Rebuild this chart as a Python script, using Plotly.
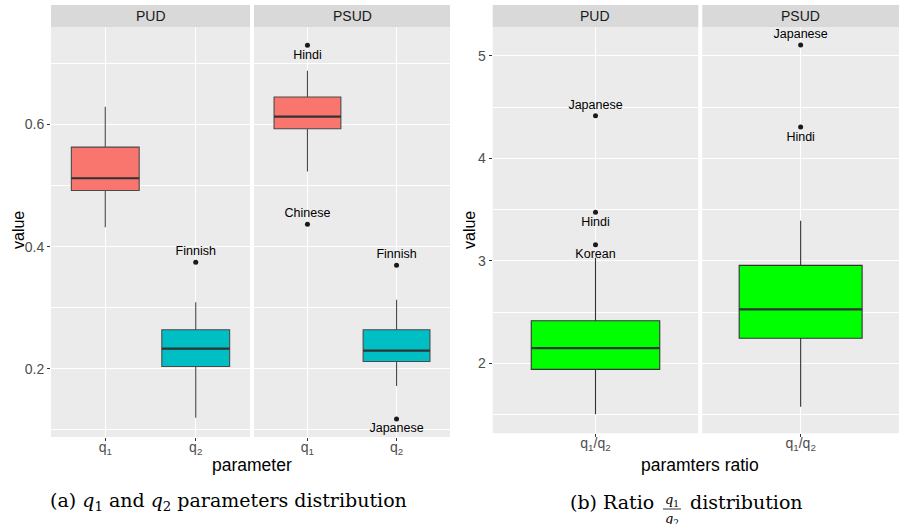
import plotly.graph_objects as go

W, H = 900, 524

# ---------------- data ----------------
datasets = ["PUD", "PSUD"]
param_categories = ["q1", "q2"]
param_ticktext = ["q<sub>1</sub>", "q<sub>2</sub>"]

# box statistics (lower whisker, Q1, median, Q3, upper whisker) per dataset, per parameter
pud_lower = [0.432, 0.120]
pud_q1 = [0.492, 0.204]
pud_median = [0.512, 0.233]
pud_q3 = [0.563, 0.264]
pud_upper = [0.629, 0.309]

psud_lower = [0.523, 0.172]
psud_q1 = [0.593, 0.212]
psud_median = [0.613, 0.230]
psud_q3 = [0.645, 0.264]
psud_upper = [0.688, 0.313]

# outliers
pud_out_param = ["q2"]
pud_out_value = [0.3745]
pud_out_label = ["Finnish"]
pud_out_pos = ["top center"]

psud_out_param = ["q1", "q1", "q2", "q2"]
psud_out_value = [0.7296, 0.4367, 0.3696, 0.118]
psud_out_label = ["Hindi", "Chinese", "Finnish", "Japanese"]
psud_out_pos = ["bottom center", "top center", "top center", "bottom center"]

# ratio q1/q2
ratio_categories = ["q1/q2"]
ratio_ticktext = ["q<sub>1</sub>/q<sub>2</sub>"]
ratio_lower = [1.505, 1.579]
ratio_q1 = [1.943, 2.246]
ratio_median = [2.151, 2.528]
ratio_q3 = [2.417, 2.957]
ratio_upper = [3.03, 3.392]

ratio_pud_out_value = [4.415, 3.474, 3.158]
ratio_pud_out_label = ["Japanese", "Hindi", "Korean"]
ratio_pud_out_pos = ["top center", "bottom center", "bottom center"]
ratio_psud_out_value = [5.104, 4.305]
ratio_psud_out_label = ["Japanese", "Hindi"]
ratio_psud_out_pos = ["top center", "bottom center"]

left_y_ticks = [0.2, 0.4, 0.6]
right_y_ticks = [2, 3, 4, 5]

# ---------------- styling ----------------
RED = "#F8766D"
CYAN = "#00BFC4"
GREEN = "#00FF00"
BOXLINE = "#333333"
SANS = "Liberation Sans, Arial, sans-serif"
SERIF = "DejaVu Serif, Liberation Serif, serif"
BOXW = 0.75


def px(x):
    return x / W


def py(y):
    return 1 - y / H


fig = go.Figure()


def add_box(xname, yname, pos, lo, q1, med, q3, hi, color, lc):
    fig.add_trace(go.Box(
        x=[pos], lowerfence=[lo], q1=[q1], median=[med], q3=[q3], upperfence=[hi],
        xaxis=xname, yaxis=yname, width=BOXW, whiskerwidth=0,
        fillcolor=color, line=dict(color=lc, width=1.1),
        boxpoints=False, showlegend=False, hoverinfo="skip"))
    # thicker median line (ggplot fatten)
    fig.add_trace(go.Scatter(
        x=[pos - BOXW / 2, pos + BOXW / 2], y=[med, med], mode="lines",
        line=dict(color=BOXLINE, width=2.2), xaxis=xname, yaxis=yname,
        showlegend=False, hoverinfo="skip"))


def add_outliers(xname, yname, xs, ys, labels, positions):
    fig.add_trace(go.Scatter(
        x=xs, y=ys, mode="markers+text", text=labels, textposition=positions,
        marker=dict(color="#1a1a1a", size=5), textfont=dict(family=SANS, size=12.5, color="black"),
        xaxis=xname, yaxis=yname, showlegend=False, hoverinfo="skip"))


fills = [RED, CYAN]
for i, cat in enumerate(param_categories):
    add_box("x", "y", i, pud_lower[i], pud_q1[i], pud_median[i], pud_q3[i], pud_upper[i], fills[i], "#4a4a4a")
    add_box("x2", "y2", i, psud_lower[i], psud_q1[i], psud_median[i], psud_q3[i], psud_upper[i], fills[i], "#4a4a4a")

add_outliers("x", "y", [param_categories.index(p) for p in pud_out_param], pud_out_value, pud_out_label, pud_out_pos)
add_outliers("x2", "y2", [param_categories.index(p) for p in psud_out_param], psud_out_value, psud_out_label, psud_out_pos)

add_box("x3", "y3", 0, ratio_lower[0], ratio_q1[0], ratio_median[0], ratio_q3[0], ratio_upper[0], GREEN, BOXLINE)
add_box("x4", "y4", 0, ratio_lower[1], ratio_q1[1], ratio_median[1], ratio_q3[1], ratio_upper[1], GREEN, BOXLINE)
add_outliers("x3", "y3", [0] * len(ratio_pud_out_value), ratio_pud_out_value, ratio_pud_out_label, ratio_pud_out_pos)
add_outliers("x4", "y4", [0] * len(ratio_psud_out_value), ratio_psud_out_value, ratio_psud_out_label, ratio_psud_out_pos)

# ---------------- axes ----------------
tickfont = dict(family=SANS, size=14, color="#4d4d4d")

xdom = [
    [px(51), px(250)],
    [px(254), px(450)],
    [px(492.7), px(698.3)],
    [px(702.3), px(899)],
]
ydom_left = [py(437), py(27)]
ydom_right = [py(433.3), py(27)]


def xaxis(i, ticktext, rng):
    return dict(domain=xdom[i], range=rng, tickvals=list(range(len(ticktext))), ticktext=ticktext,
                showgrid=True, gridcolor="white", gridwidth=1.1, zeroline=False,
                ticks="outside", ticklen=3, tickcolor=BOXLINE, tickfont=tickfont,
                ticklabelstandoff=-6,
                anchor=["y", "y2", "y3", "y4"][i], fixedrange=True)


def yaxis(dom, rng, tickvals, dtick_minor, show, anchor="x"):
    d = dict(domain=dom, range=rng, tickvals=tickvals, ticktext=[str(v) for v in tickvals],
             showgrid=True, gridcolor="white", gridwidth=1.1, zeroline=False,
             minor=dict(dtick=dtick_minor, tick0=0, showgrid=True, gridcolor="white", gridwidth=0.55),
             ticks="outside" if show else "", ticklen=3, tickcolor=BOXLINE,
             showticklabels=show, tickfont=tickfont, anchor=anchor, fixedrange=True)
    return d


left_range = [0.0885, 0.7596]
right_range = [1.32, 5.28]

fig.update_layout(
    width=W, height=H,
    margin=dict(l=0, r=0, t=0, b=0),
    paper_bgcolor="white", plot_bgcolor="#ebebeb",
    xaxis=xaxis(0, param_ticktext, [-0.6, 1.6]),
    xaxis2=xaxis(1, param_ticktext, [-0.6, 1.6]),
    xaxis3=xaxis(2, ratio_ticktext, [-0.6, 0.6]),
    xaxis4=xaxis(3, ratio_ticktext, [-0.6, 0.6]),
    yaxis=yaxis(ydom_left, left_range, left_y_ticks, 0.1, True, anchor="x"),
    yaxis2=yaxis(ydom_left, left_range, left_y_ticks, 0.1, False, anchor="x2"),
    yaxis3=yaxis(ydom_right, right_range, right_y_ticks, 0.5, True, anchor="x3"),
    yaxis4=yaxis(ydom_right, right_range, right_y_ticks, 0.5, False, anchor="x4"),
    font=dict(family=SANS),
)

# ---------------- strips ----------------
shapes = []
annotations = []
for i, xn in enumerate(["x", "x2", "x3", "x4"]):
    shapes.append(dict(type="rect", xref=f"{xn} domain", yref="paper", x0=0, x1=1,
                       y0=py(27), y1=py(5), fillcolor="#d9d9d9", line=dict(width=0), layer="below"))
    annotations.append(dict(text=datasets[i % 2], xref=f"{xn} domain", yref="paper", x=0.5, y=py(16),
                            showarrow=False, font=dict(family=SANS, size=14, color="#1a1a1a"),
                            xanchor="center", yanchor="middle"))

# axis titles
title_font = dict(family=SANS, size=17.5, color="black")
annotations += [
    dict(text="value", x=px(18), y=py(230), xref="paper", yref="paper", showarrow=False, textangle=-90,
         font=dict(family=SANS, size=16, color="black"), xanchor="center", yanchor="middle"),
    dict(text="value", x=px(469), y=py(230), xref="paper", yref="paper", showarrow=False, textangle=-90,
         font=dict(family=SANS, size=16, color="black"), xanchor="center", yanchor="middle"),
    dict(text="parameter", x=px(252), y=py(465), xref="paper", yref="paper", showarrow=False,
         font=title_font, xanchor="center", yanchor="middle"),
    dict(text="paramters ratio", x=px(700), y=py(465), xref="paper", yref="paper", showarrow=False,
         font=title_font, xanchor="center", yanchor="middle"),
]

# captions
cap_font = dict(family=SERIF, size=19, color="black")
annotations += [
    dict(text="(a) <i>q</i><sub>1</sub> and <i>q</i><sub>2</sub> parameters distribution",
         x=px(229), y=py(501), xref="paper", yref="paper", showarrow=False, font=cap_font,
         xanchor="center", yanchor="middle"),
    dict(text="(b) Ratio", x=px(656), y=py(502), xref="paper", yref="paper", showarrow=False,
         font=cap_font, xanchor="right", yanchor="middle"),
    dict(text="distribution", x=px(688), y=py(502), xref="paper", yref="paper", showarrow=False,
         font=cap_font, xanchor="left", yanchor="middle"),
    dict(text="<i>q</i><sub>1</sub>", x=px(672), y=py(500), xref="paper", yref="paper", showarrow=False,
         font=dict(family=SERIF, size=13, color="black"), xanchor="center", yanchor="middle"),
    dict(text="<i>q</i><sub>2</sub>", x=px(672), y=py(519), xref="paper", yref="paper", showarrow=False,
         font=dict(family=SERIF, size=13, color="black"), xanchor="center", yanchor="middle"),
]
shapes.append(dict(type="line", xref="paper", yref="paper", x0=px(663), x1=px(681), y0=py(509), y1=py(509),
                   line=dict(color="black", width=0.8)))

fig.update_layout(shapes=shapes, annotations=annotations)

fig.write_html("out.html", config={"displayModeBar": False},
               post_script="document.body.style.margin='0';")
